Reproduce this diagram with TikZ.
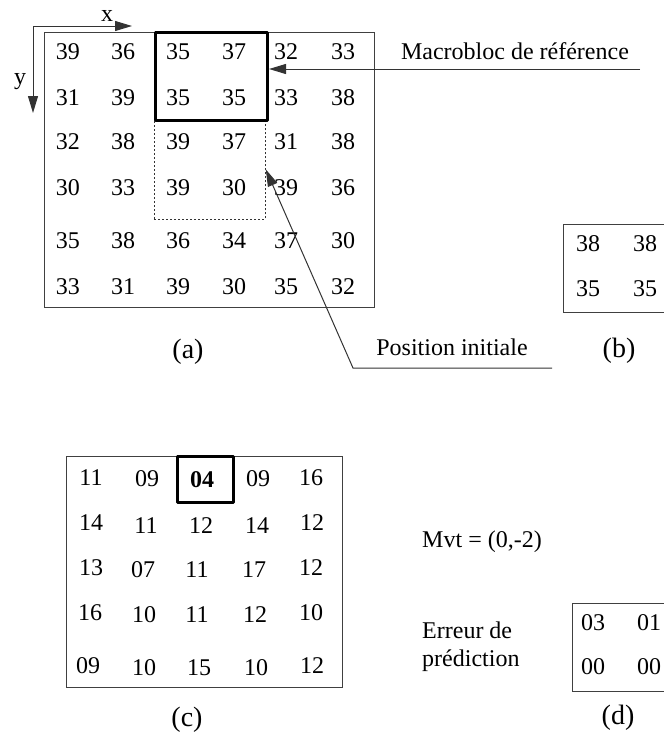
\documentclass[tikz,border=0pt]{standalone}
\usepackage{fontspec}
\setmainfont{Liberation Serif}
\usetikzlibrary{arrows.meta}
\begin{document}
\begin{tikzpicture}[x=1pt,y=-1pt,
  num/.style={inner sep=0pt, font=\fontsize{24}{28}\selectfont},
  lbl/.style={inner sep=0pt, font=\fontsize{24}{28}\selectfont},
  sublbl/.style={inner sep=0pt, font=\fontsize{28}{32}\selectfont},
  frame/.style={draw=black!75, line width=1pt, inner sep=0pt, anchor=north west},
  mbox/.style={draw=black, line width=3pt, line join=round, inner sep=0pt, anchor=north west},
  dotbox/.style={draw=black!80, line width=0.8pt, dash pattern=on 2pt off 2pt, inner sep=0pt, anchor=north west},
  conn/.style={draw=black!80, line width=1pt},
  tip/.style={-{Triangle[length=17pt,width=10pt]}}
]
\useasboundingbox (0,0) rectangle (664,745);
\clip (0,0) rectangle (664,745);

% ---------- (a) ----------
\node[frame, minimum width=330pt, minimum height=275pt] (fa) at (44,32) {};
\node[dotbox, minimum width=111pt, minimum height=100pt] (dot) at (154,119) {};
\node[mbox, minimum width=112pt, minimum height=88pt] (mb) at (154,31) {};

\foreach \row/\y in {{39,36,35,37,32,33}/52,{31,39,35,35,33,38}/98,{32,38,39,37,31,38}/142,{30,33,39,30,39,36}/188,{35,38,36,34,37,30}/241,{33,31,39,30,35,32}/287}{
  \foreach \v [count=\c] in \row {
    \pgfmathsetmacro{\xx}{{68,123,178,234,286,343}[\c-1]}
    \node[num] (a-\c-\y) at (\xx,\y) {\v};
  }
}

% axes
\coordinate (o) at (33,26);
\coordinate (xe) at (132,26);
\coordinate (ye) at (33,113);
\draw[conn,tip] (o) -- (xe);
\draw[conn,tip] (o) -- (ye);
\node[lbl] (xl) at (107,16) {x};
\node[lbl] (yl) at (20,82) {y};

\node[sublbl] (la) at (188,352) {(a)};

% macrobloc label
\node[lbl] (mbt) at (515,51) {Macrobloc de référence};
\coordinate (mbend) at (640,69);
\draw[conn,tip] (mbend) -- (mb.east |- mbend);

% position initiale
\node[lbl] (pit) at (452,347) {Position initiale};
\coordinate (pi1) at (552,368);
\coordinate (pi2) at (353,368);
\draw[conn,tip] (pi1) -- (pi2) -- (dot.east);

% ---------- (b) ----------
\node[frame, minimum width=140pt, minimum height=88pt] (fb) at (563,224) {};
\node[num] (b11) at (588,244) {38};
\node[num] (b12) at (645,244) {38};
\node[num] (b21) at (588,289) {35};
\node[num] (b22) at (645,289) {35};
\node[sublbl] (lb) at (619,351) {(b)};

% ---------- (c) ----------
\node[frame, minimum width=276pt, minimum height=231pt] (fc) at (66,456) {};
\node[mbox, minimum width=56pt, minimum height=46pt] (cb) at (176,455) {};
\node[num] (c11) at (91,478) {11};
\node[num] (c12) at (147,479) {09};
\node[num, font=\fontsize{24}{28}\selectfont\bfseries] (c13) at (202,480) {04};
\node[num] (c14) at (258,479) {09};
\node[num] (c15) at (311,478) {16};
\node[num] (c21) at (91,523) {14};
\node[num] (c22) at (146,526) {11};
\node[num] (c23) at (201,526) {12};
\node[num] (c24) at (257,526) {14};
\node[num] (c25) at (312,523) {12};
\node[num] (c31) at (91,568) {13};
\node[num] (c32) at (143,570) {07};
\node[num] (c33) at (197,570) {11};
\node[num] (c34) at (254,570) {17};
\node[num] (c35) at (311,568) {12};
\node[num] (c41) at (90,613) {16};
\node[num] (c42) at (144,615) {10};
\node[num] (c43) at (197,615) {11};
\node[num] (c44) at (255,615) {12};
\node[num] (c45) at (311,613) {10};
\node[num] (c51) at (88,666) {09};
\node[num] (c52) at (144,668) {10};
\node[num] (c53) at (199,668) {15};
\node[num] (c54) at (256,668) {10};
\node[num] (c55) at (312,666) {12};
\node[sublbl] (lc) at (187,720) {(c)};

% ---------- (d) ----------
\node[lbl] (mvt) at (482,542) {Mvt = (0,-2)};
\node[lbl, anchor=base west] (err1) at (422,638) {Erreur de};
\node[lbl, anchor=base west] (err2) at (422,666) {prédiction};
\node[frame, minimum width=140pt, minimum height=88pt] (fd) at (572,603) {};
\node[num] (d11) at (593,623) {03};
\node[num] (d12) at (649,623) {01};
\node[num] (d21) at (593,667) {00};
\node[num] (d22) at (649,667) {00};
\node[sublbl] (ld) at (618,718) {(d)};
\end{tikzpicture}
\end{document}
